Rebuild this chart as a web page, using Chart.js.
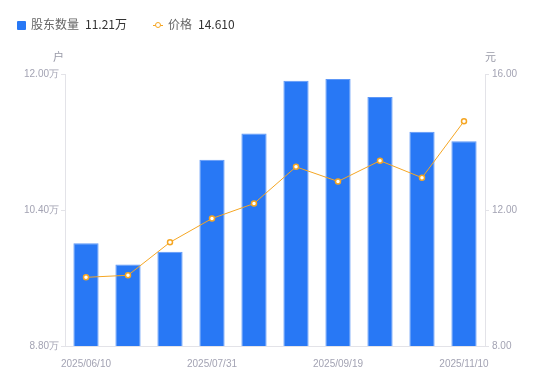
<!DOCTYPE html>
<html>
<head>
<meta charset="utf-8">
<script src="https://cdn.jsdelivr.net/npm/chart.js@4/dist/chart.umd.min.js"></script>
<style>
html,body{margin:0;padding:0;background:#fff;}
#wrap{position:relative;width:550px;height:381px;font-family:"Noto Sans CJK SC","Noto Sans",sans-serif;}
canvas{position:absolute;left:0;top:0;}
.lg{position:absolute;top:15px;font-size:12px;line-height:18px;color:#666;white-space:nowrap;}
.lg b{font-weight:normal;color:#333;margin-left:6px;}
.unit{position:absolute;top:48px;font-size:11px;color:#999aa8;}
</style>
</head>
<body>
<div id="wrap">
<canvas id="c" width="550" height="381"></canvas>
<div class="lg" style="left:17px;"><span style="display:inline-block;width:9px;height:9px;background:#2878f5;border-radius:1px;vertical-align:-1px;margin-right:5px;"></span>股东数量<b>11.21万</b></div>
<div class="lg" style="left:153px;"><span style="display:inline-block;position:relative;width:10px;height:9px;margin-right:5px;vertical-align:-1px;"><span style="position:absolute;left:0;top:4px;width:10px;height:1px;background:#f5a623;"></span><span style="position:absolute;left:2px;top:1px;width:4px;height:4px;border:1.5px solid #f5a623;border-radius:50%;background:#fff;"></span></span>价格<b>14.610</b></div>
<div class="unit" style="left:53px;">户</div>
<div class="unit" style="left:485px;">元</div>
</div>
<script>
const categories = ["2025/06/10","2025/06/20","2025/06/30","2025/07/31","2025/08/20","2025/08/31","2025/09/19","2025/09/30","2025/10/20","2025/11/10"];
const holders = [10.01, 9.76, 9.91, 10.99, 11.30, 11.92, 11.94, 11.73, 11.32, 11.21];
const prices = [10.02, 10.08, 11.05, 11.75, 12.19, 13.27, 12.84, 13.45, 12.95, 14.61];
const leftTicks = [8.80, 10.40, 12.00];
const rightTicks = [8.00, 12.00, 16.00];
const shownLabels = [0, 3, 6, 9];

const tickFont = {family: "Liberation Sans, Arial, sans-serif", size: 10};
const tickColor = '#a3a3b3';
const axisColor = '#e3e3e8';

new Chart(document.getElementById('c'), {
  data: {
    labels: categories,
    datasets: [
      {type:'line', label:'价格', data: prices, yAxisID:'y1', borderColor:'#f5a623', borderWidth:1,
       pointRadius:2.5, pointBorderWidth:1.5, pointBackgroundColor:'#fff', pointBorderColor:'#f5a623', tension:0, order:0},
      {type:'bar', label:'股东数量', data: holders, yAxisID:'y', backgroundColor:'#2878f5', borderColor:'#5d97f7', borderWidth:1,
       categoryPercentage:0.6, barPercentage:1, order:1}
    ]
  },
  options: {
    responsive:false, animation:false, maintainAspectRatio:false,
    layout:{padding:{top:74,left:0,right:0,bottom:0}},
    plugins:{legend:{display:false}, tooltip:{enabled:false}},
    scales:{
      x:{
        grid:{display:false, drawOnChartArea:false},
        border:{display:true, color:axisColor},
        ticks:{autoSkip:false, maxRotation:0, font:tickFont, color:tickColor, padding:4,
          callback:function(v,i){ return shownLabels.includes(i) ? categories[i] : null; }},
        afterFit:function(s){ s.height = 35; }
      },
      y:{
        position:'left', min:leftTicks[0], max:leftTicks[2],
        afterBuildTicks:function(s){ s.ticks = leftTicks.map(v=>({value:v})); },
        grid:{drawOnChartArea:false, tickLength:4, color:axisColor},
        border:{display:true, color:axisColor},
        ticks:{font:tickFont, color:tickColor, padding:2, callback:v=>v.toFixed(2)+'万'},
        afterFit:function(s){ s.width = 65; }
      },
      y1:{
        position:'right', min:rightTicks[0], max:rightTicks[2],
        afterBuildTicks:function(s){ s.ticks = rightTicks.map(v=>({value:v})); },
        grid:{drawOnChartArea:false, tickLength:4, color:axisColor},
        border:{display:true, color:axisColor},
        ticks:{font:tickFont, color:tickColor, padding:3, callback:v=>v.toFixed(2)},
        afterFit:function(s){ s.width = 65; }
      }
    }
  }
});
</script>
</body>
</html>
